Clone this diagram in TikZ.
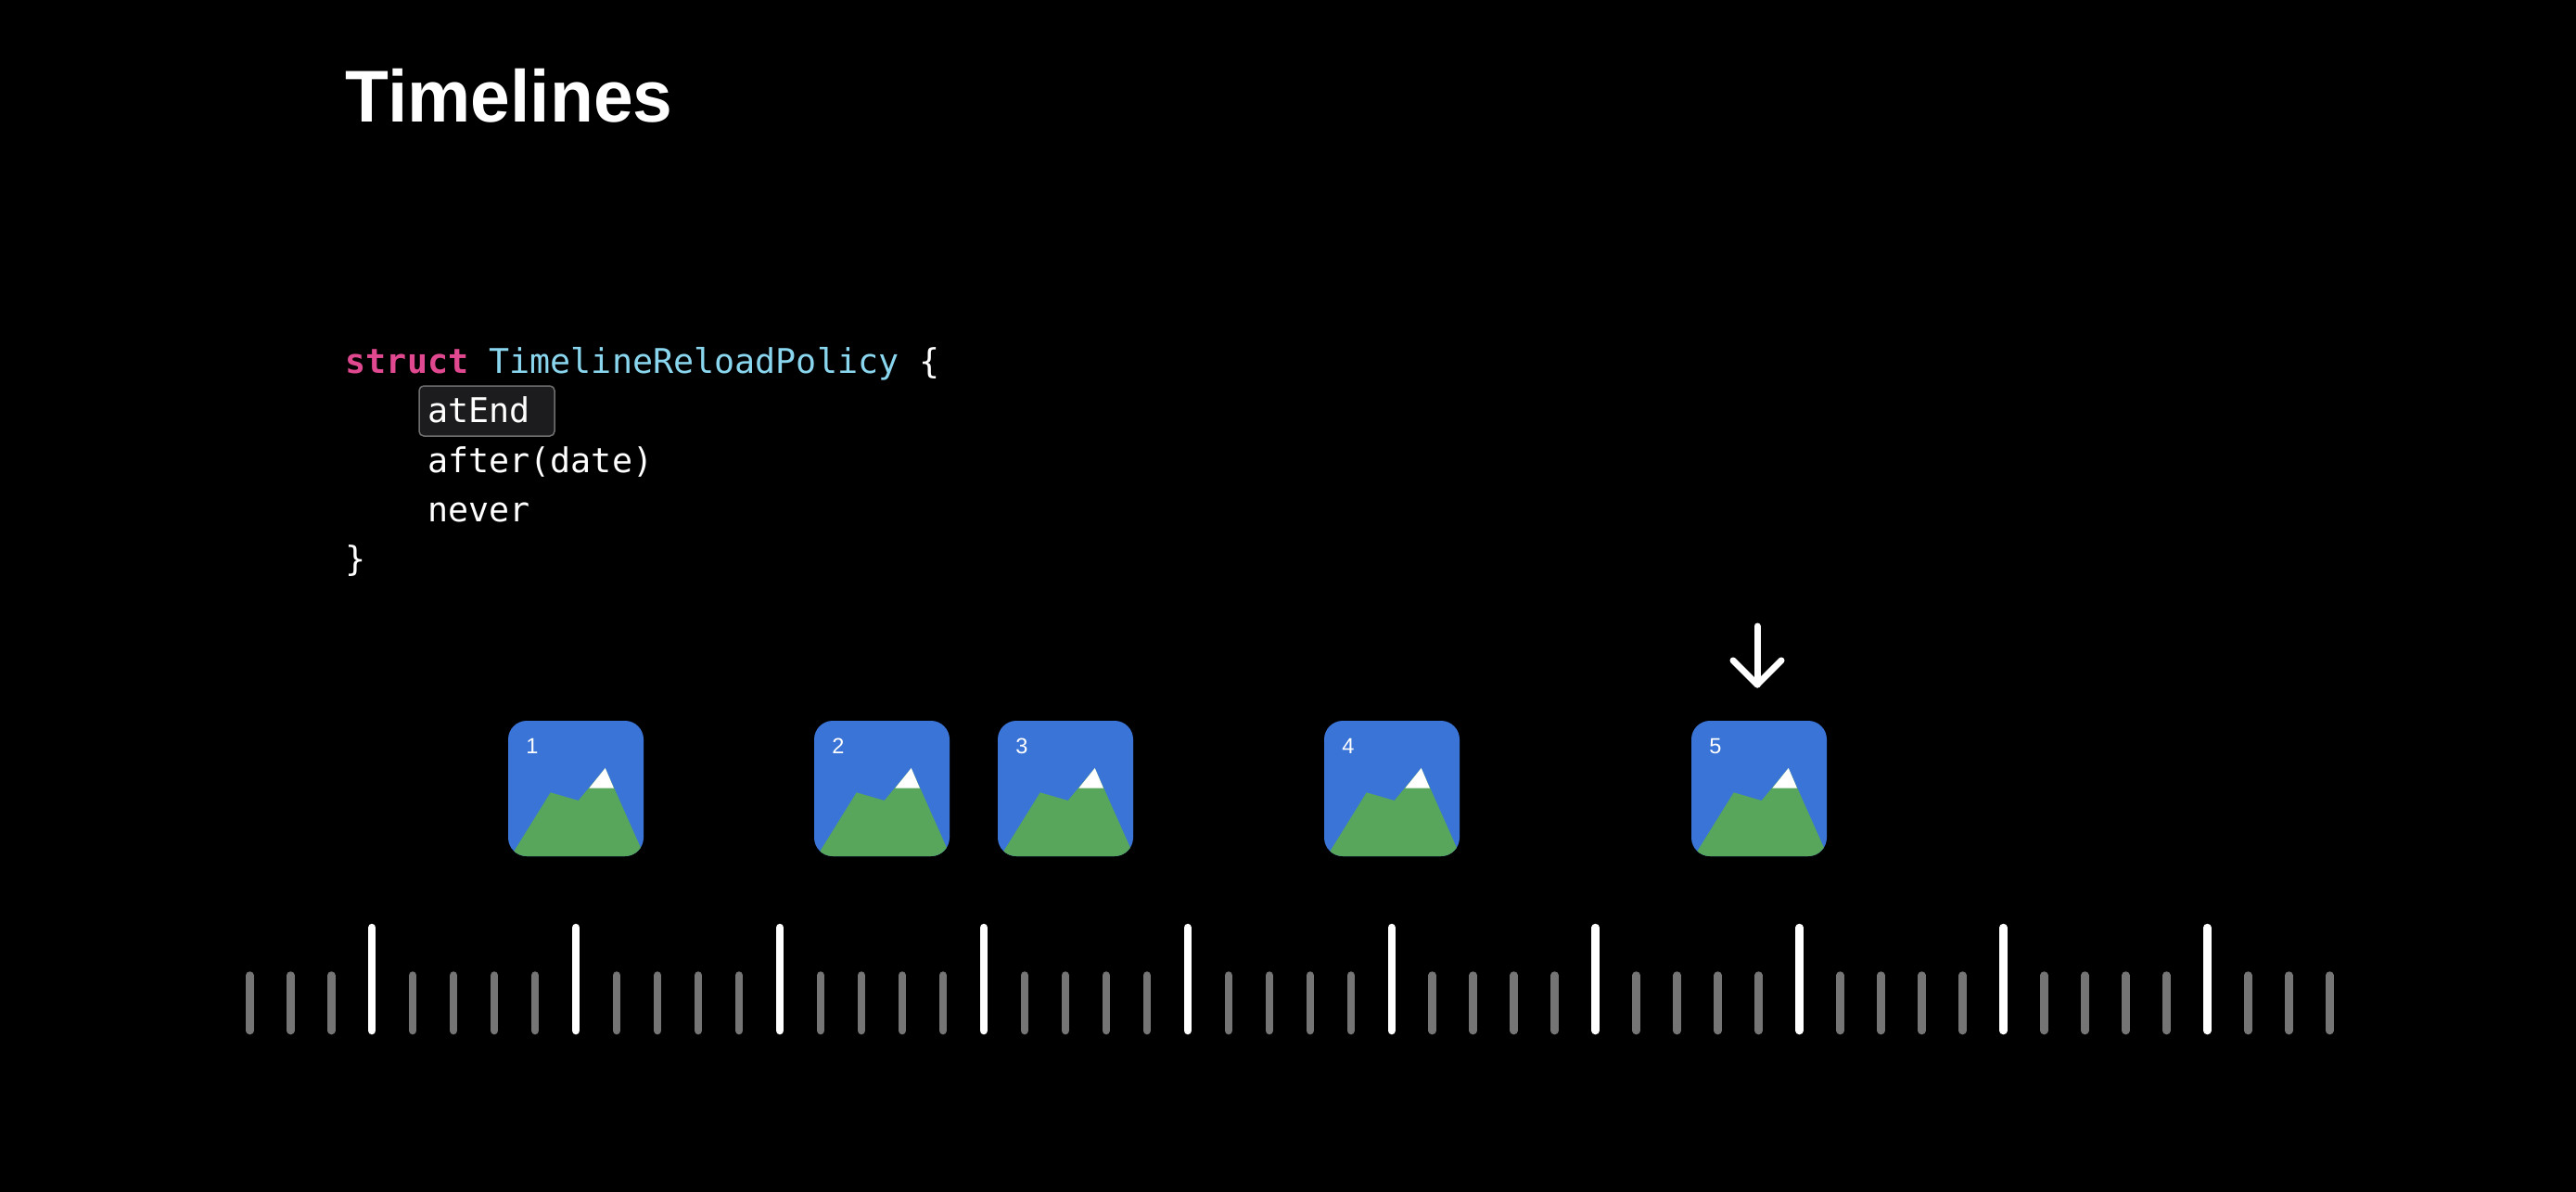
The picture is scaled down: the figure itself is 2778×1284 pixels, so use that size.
\documentclass[tikz,border=0pt]{standalone}
\usepackage{fontspec}
\setmainfont{Liberation Sans}
\newfontfamily\codefont{DejaVu Sans Mono}
\newfontfamily\titlefont{Liberation Sans}[FakeStretch=0.97]
\definecolor{bgblack}{HTML}{000000}
\definecolor{skyblue}{HTML}{3A74D6}
\definecolor{hillgreen}{HTML}{58A55C}
\definecolor{tickgray}{HTML}{757575}
\definecolor{kwpink}{HTML}{E0488F}
\definecolor{typecyan}{HTML}{8AD6EF}
\definecolor{boxfill}{HTML}{1C1C1E}
\definecolor{boxline}{HTML}{6F6F6F}

\begin{document}
\begin{tikzpicture}
      [x=.01cm,y=-.01cm
      ,codeline/.style={anchor=base west,inner sep=0,text=white,font=\codefont\fontsize{10.44}{12}\selectfont}
      ,tickmin/.style={color=tickgray,line width=.085cm,line cap=round}
      ,tickmaj/.style={color=white,line width=.085cm,line cap=round}
      ,sky/.style={fill=skyblue,rounded corners=.2cm}
      ,hill/.style={fill=hillgreen}
      ,snow/.style={fill=white}
      ,marker/.style={color=white,line width=.07cm,line cap=round,line join=round}
      ]
        \useasboundingbox (0,0) rectangle (2778,1284);
        \fill[bgblack] (-5,-5) rectangle (2783,1289);

        \node[anchor=base west,inner sep=0,text=white,font=\titlefont\bfseries\fontsize{22.5}{27}\selectfont] (title) at (372,131) {Timelines};

        \draw[fill=boxfill,draw=boxline,line width=.015cm,rounded corners=.05cm] (452,416) rectangle (598,470);
        \node[codeline] (head) at (372,402) {\textcolor{kwpink}{\bfseries struct} \textcolor{typecyan}{TimelineReloadPolicy} \{};
        \node[codeline] (atend) at (460.4,455) {atEnd};
        \node[codeline] (after) at (460.4,509) {after(date)};
        \node[codeline] (never) at (460.4,562) {never};
        \node[codeline] (close) at (372,615) {\}};

        \foreach \n/\x in {1/548,2/878,3/1076,4/1428,5/1824}{
            \begin{scope}[shift={(\x,777)}]
                \path[sky] (0,0) rectangle (146,146);
                \begin{scope}
                    \clip[rounded corners=.2cm] (0,0) rectangle (146,146);
                    \fill[hill] (3,146) -- (45.7,77.3) -- (75.7,86) -- (104.7,51) -- (147,146) -- cycle;
                    \fill[snow] (87.3,72.7) -- (104.7,51) -- (114,72.7) -- cycle;
                \end{scope}
                \node[inner sep=0,text=white,font=\fontsize{6.7}{8}\selectfont] (icon\n) at (26,27) {\n};
            \end{scope}
        }

        \coordinate (marktop) at (1895,675);
        \coordinate (marktip) at (1895,738);
        \draw[marker] (marktop) -- (marktip);
        \draw[marker] (1869,712) -- (marktip) -- (1921,712);

        \foreach \i in {0,1,...,51}{
            \pgfmathtruncatemacro\m{mod(\i,5)}
            \ifnum\m=3
                \draw[tickmaj] (269.3+43.98*\i,1000) -- (269.3+43.98*\i,1111);
            \else
                \draw[tickmin] (269.3+43.98*\i,1051.5) -- (269.3+43.98*\i,1111);
            \fi
        }
      \end{tikzpicture}
\end{document}
